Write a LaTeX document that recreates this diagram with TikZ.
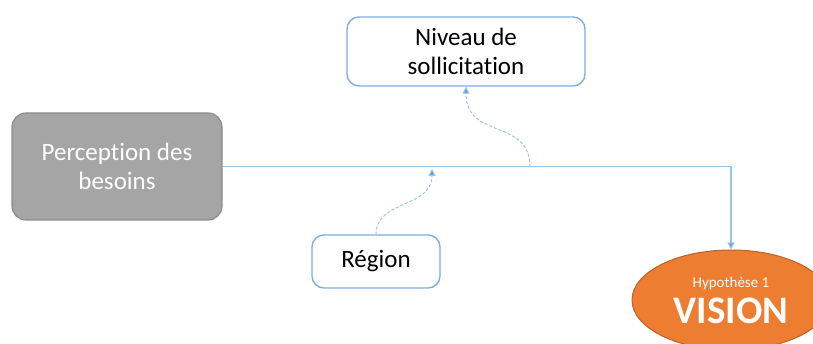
\documentclass[tikz,border=0pt]{standalone}
\usepackage{fontspec}
\setmainfont{Carlito}[Ligatures=NoCommon]
\usepackage{tikz}
\usetikzlibrary{arrows.meta,shapes.geometric}
\definecolor{linkblue}{HTML}{9DC3E6}
\definecolor{tipblue}{HTML}{5B9BD5}
\definecolor{boxblue}{HTML}{7FAFDF}
\definecolor{greyfill}{HTML}{A5A5A5}
\definecolor{greyline}{HTML}{8C8C8C}
\definecolor{orangefill}{HTML}{ED7D31}
\definecolor{orangeline}{HTML}{B9622A}

\begin{document}
\begin{tikzpicture}[x=1pt,y=-1pt,
  whitebox/.style={draw=boxblue,line width=1.4pt,fill=white,rounded corners=12pt,align=center,font=\fontsize{25}{29}\selectfont},
  greybox/.style={draw=greyline,line width=1.2pt,fill=greyfill,text=white,rounded corners=14pt,align=center,font=\fontsize{25}{29}\selectfont},
  link/.style={draw=linkblue,line width=1.2pt,-{Triangle[length=7pt,width=7pt,fill=tipblue]}},
  dashlink/.style={draw=linkblue,line width=1pt,dash pattern=on 3pt off 2pt,-{Triangle[length=7pt,width=7pt,fill=tipblue]}}]
\useasboundingbox (0,0) rectangle (813,344);
\clip (0,0) rectangle (813,344);
\node[greybox,minimum width=210pt,minimum height=107pt] (perc) at (117,166.5) {Perception des\\besoins};
\node[whitebox,minimum width=238pt,minimum height=69pt] (niv) at (466,51.5) {Niveau de\\sollicitation};
\node[whitebox,minimum width=128pt,minimum height=53pt] (reg) at (376,261.5) {Région};
\node[ellipse,draw=orangeline,line width=1pt,fill=orangefill,text=white,align=center,
  minimum width=198pt,minimum height=100pt,inner sep=0pt] (vis) at (731,300)
  {\fontsize{15}{19}\selectfont Hypothèse 1\\[7pt]\fontsize{39}{40}\selectfont\bfseries VISION};
% main link
\draw[link] (perc.east) -| (vis.north);
\coordinate (tapN) at (530,167);
\coordinate (tapR) at (432,169);
% dashed influences
\draw[dashlink] (tapN) .. controls (530,118) and (466,140) .. (niv.south);
\draw[dashlink] (reg.north) .. controls (376,200) and (432,208) .. (tapR);
\end{tikzpicture}
\end{document}
